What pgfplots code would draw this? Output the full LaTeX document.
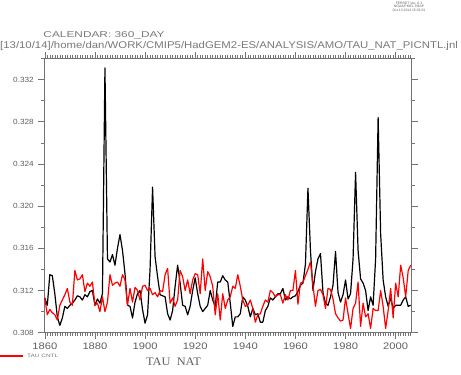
\documentclass[border=0pt]{standalone}
\usepackage{pgfplots}
\usepackage{pgfplotstable}
\pgfplotsset{compat=1.18}
\usepackage{fontspec}
\setmainfont{Liberation Sans}
\newfontfamily\serifT{Liberation Serif}
\definecolor{txtgrey}{RGB}{95,95,95}
\definecolor{lightgrey}{RGB}{120,120,120}
\definecolor{axgrey}{RGB}{115,115,115}

\pgfplotstableread{
year nat
1860 0.3113
1861 0.3106
1862 0.3135
1863 0.3134
1864 0.3117
1865 0.3095
1866 0.3087
1867 0.3094
1868 0.3105
1869 0.3103
1870 0.3106
1871 0.3108
1872 0.3111
1873 0.3115
1874 0.3114
1875 0.3111
1876 0.3116
1877 0.3114
1878 0.3119
1879 0.3120
1880 0.3106
1881 0.3112
1882 0.3108
1883 0.3117
1884 0.3331
1885 0.3150
1886 0.3147
1887 0.3154
1888 0.3144
1889 0.3160
1890 0.3173
1891 0.3158
1892 0.3136
1893 0.3106
1894 0.3105
1895 0.3094
1896 0.3109
1897 0.3117
1898 0.3120
1899 0.3102
1900 0.3089
1901 0.3097
1902 0.3140
1903 0.3218
1904 0.3152
1905 0.3133
1906 0.3116
1907 0.3115
1908 0.3114
1909 0.3098
1910 0.3092
1911 0.3101
1912 0.3124
1913 0.3144
1914 0.3127
1915 0.3106
1916 0.3105
1917 0.3097
1918 0.3105
1919 0.3120
1920 0.3132
1921 0.3117
1922 0.3105
1923 0.3100
1924 0.3103
1925 0.3106
1926 0.3120
1927 0.3111
1928 0.3105
1929 0.3128
1930 0.3128
1931 0.3134
1932 0.3130
1933 0.3128
1934 0.3108
1935 0.3086
1936 0.3095
1937 0.3095
1938 0.3098
1939 0.3114
1940 0.3111
1941 0.3105
1942 0.3095
1943 0.3103
1944 0.3097
1945 0.3098
1946 0.3090
1947 0.3090
1948 0.3101
1949 0.3105
1950 0.3113
1951 0.3111
1952 0.3114
1953 0.3117
1954 0.3117
1955 0.3122
1956 0.3111
1957 0.3114
1958 0.3112
1959 0.3114
1960 0.3115
1961 0.3119
1962 0.3125
1963 0.3127
1964 0.3145
1965 0.3217
1966 0.3158
1967 0.3120
1968 0.3138
1969 0.3150
1970 0.3155
1971 0.3118
1972 0.3108
1973 0.3106
1974 0.3114
1975 0.3125
1976 0.3157
1977 0.3118
1978 0.3109
1979 0.3116
1980 0.3130
1981 0.3112
1982 0.3117
1983 0.3150
1984 0.3232
1985 0.3158
1986 0.3131
1987 0.3127
1988 0.3120
1989 0.3101
1990 0.3114
1991 0.3106
1992 0.3150
1993 0.3284
1994 0.3174
1995 0.3130
1996 0.3114
1997 0.3105
1998 0.3113
1999 0.3103
2000 0.3106
2001 0.3106
2002 0.3106
2003 0.3111
2004 0.3114
2005 0.3105
2006 0.3106
}\natdata

\pgfplotstableread{
year cntl
1860 0.3113
1861 0.3097
1862 0.3102
1863 0.3099
1864 0.3097
1865 0.3092
1866 0.3106
1867 0.3111
1868 0.3116
1869 0.3122
1870 0.3109
1871 0.3106
1872 0.3139
1873 0.3130
1874 0.3131
1875 0.3135
1876 0.3119
1877 0.3127
1878 0.3124
1879 0.3128
1880 0.3106
1881 0.3108
1882 0.3100
1883 0.3114
1884 0.3100
1885 0.3109
1886 0.3135
1887 0.3125
1888 0.3127
1889 0.3128
1890 0.3124
1891 0.3135
1892 0.3130
1893 0.3106
1894 0.3122
1895 0.3109
1896 0.3123
1897 0.3120
1898 0.3111
1899 0.3124
1900 0.3125
1901 0.3120
1902 0.3122
1903 0.3116
1904 0.3118
1905 0.3114
1906 0.3120
1907 0.3119
1908 0.3135
1909 0.3141
1910 0.3108
1911 0.3113
1912 0.3105
1913 0.3111
1914 0.3139
1915 0.3133
1916 0.3120
1917 0.3130
1918 0.3117
1919 0.3130
1920 0.3136
1921 0.3135
1922 0.3117
1923 0.3150
1924 0.3120
1925 0.3138
1926 0.3133
1927 0.3124
1928 0.3097
1929 0.3117
1930 0.3092
1931 0.3117
1932 0.3103
1933 0.3111
1934 0.3114
1935 0.3124
1936 0.3122
1937 0.3135
1938 0.3124
1939 0.3111
1940 0.3105
1941 0.3106
1942 0.3111
1943 0.3103
1944 0.3090
1945 0.3097
1946 0.3098
1947 0.3105
1948 0.3111
1949 0.3109
1950 0.3120
1951 0.3118
1952 0.3114
1953 0.3116
1954 0.3116
1955 0.3108
1956 0.3116
1957 0.3111
1958 0.3120
1959 0.3120
1960 0.3139
1961 0.3107
1962 0.3127
1963 0.3128
1964 0.3134
1965 0.3140
1966 0.3147
1967 0.3125
1968 0.3105
1969 0.3120
1970 0.3121
1971 0.3116
1972 0.3103
1973 0.3122
1974 0.3121
1975 0.3112
1976 0.3098
1977 0.3094
1978 0.3091
1979 0.3092
1980 0.3113
1981 0.3098
1982 0.3084
1983 0.3103
1984 0.3108
1985 0.3128
1986 0.3086
1987 0.3108
1988 0.3095
1989 0.3098
1990 0.3084
1991 0.3103
1992 0.3101
1993 0.3101
1994 0.3120
1995 0.3105
1996 0.3084
1997 0.3101
1998 0.3122
1999 0.3094
2000 0.3127
2001 0.3114
2002 0.3144
2003 0.3132
2004 0.3114
2005 0.3139
2006 0.3144
}\cntldata

\begin{document}
\begin{tikzpicture}[x=1bp,y=1bp]
\path[use as bounding box] (0,0) rectangle (461,374);
\begin{axis}[
  at={(44.3bp,41.3bp)}, anchor=south west,
  width=367.4bp, height=274.3bp, scale only axis,
  xmin=1859.8, xmax=2006.4, ymin=0.308, ymax=0.334,
  xtick={1860,1880,1900,1920,1940,1960,1980,2000},
  minor xtick={1860,1861,...,2006},
  ytick={0.308,0.312,0.316,0.320,0.324,0.328,0.332},
  minor ytick={0.310,0.314,0.318,0.322,0.326,0.330,0.334},
  tick align=outside,
  major tick length=6bp, minor tick length=3.5bp,
  axis line style={axgrey, line width=0.7bp},
  every tick/.style={axgrey, line width=0.6bp},
  /pgf/number format/assume math mode=true,
  scaled y ticks=false,
  yticklabel={\scalebox{1.1}[1]{\pgfmathprintnumber[fixed,fixed zerofill,precision=3]{\tick}}},
  xticklabel={\scalebox{1.18}[1]{\pgfmathprintnumber[int detect,1000 sep={}]{\tick}}},
  xticklabel style={font=\fontsize{9.5}{10}\selectfont, text=txtgrey, yshift=-1bp},
  yticklabel style={font=\fontsize{7.5}{8}\selectfont, text=txtgrey, xshift=-1bp},
]
\addplot[black, line width=1.2bp, line join=round] table[x=year, y=nat] {\natdata};
\addplot[red, line width=1.2bp, line join=round] table[x=year, y=cntl] {\cntldata};
\end{axis}
% title
\node[font=\serifT\fontsize{11.5}{12}\selectfont, text=txtgrey] at (173.5,12) {\scalebox{1.08}[1]{TAU\ \ NAT}};
% legend
\draw[red, line width=1.2bp] (0,18) -- (22.5,18);
\node[anchor=west, font=\fontsize{4.8}{5}\selectfont, text=lightgrey, inner sep=0] at (27,18) {\scalebox{1.35}[1]{TAU CNTL}};
% headers
\node[anchor=west, font=\fontsize{8.5}{9}\selectfont, text=lightgrey, inner sep=0] at (43.3,338.7) {\scalebox{1.4}[1]{CALENDAR: 360\_DAY}};
\node[anchor=west, font=\fontsize{9.8}{10}\selectfont, text=lightgrey, inner sep=0] at (0,328.3) {\scalebox{1.165}[1]{[13/10/14]/home/dan/WORK/CMIP5/HadGEM2-ES/ANALYSIS/AMO/TAU\_NAT\_PICNTL.jnl}};
\node[font=\fontsize{3.4}{3.7}\selectfont, text=txtgrey, align=center, inner sep=0, anchor=north] at (409,372.5) {FERRET Ver. 6.1\\NOAA/PMEL TMAP\\Oct 13 2014 15:32:01};
\end{tikzpicture}
\end{document}
